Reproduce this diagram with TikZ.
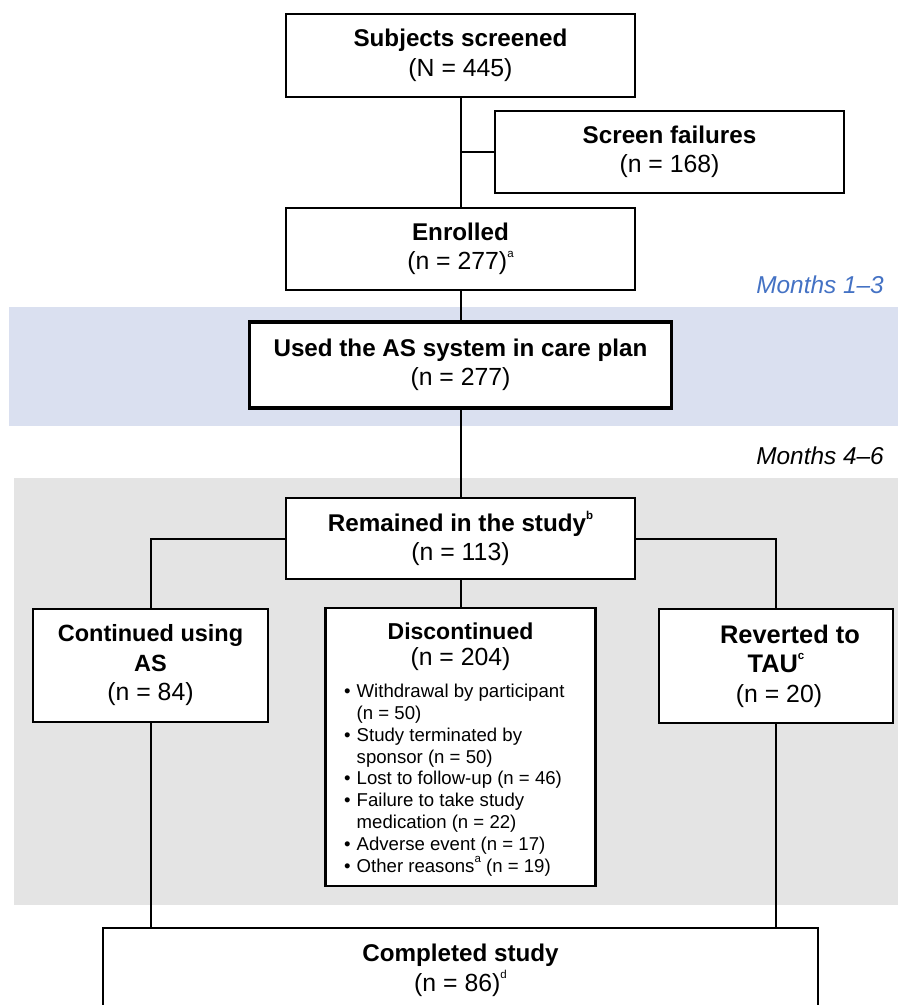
\documentclass[tikz,border=0pt]{standalone}
\usepackage{fontspec}
\setmainfont{Liberation Sans}
\definecolor{bandblue}{RGB}{218,224,240}
\definecolor{bandgray}{RGB}{228,228,228}
\definecolor{monthblue}{RGB}{68,114,196}
\newcommand{\tsize}{\fontsize{24.2}{29.5}\selectfont}
\newcommand{\nsize}{\fontsize{24.8}{29.5}\selectfont}
\newcommand{\lsize}{\fontsize{18.6}{21.8}\selectfont}
\newcommand{\supx}[1]{\raisebox{0.95ex}{\fontsize{11.5}{11.5}\selectfont #1}}
\newcommand{\bul}{\makebox[12.5pt][l]{\textbullet}}
\newcommand{\ind}{\hspace*{12.5pt}}
\tikzset{
  flowbox/.style={draw, line width=2.3pt, fill=white, align=center, inner sep=0pt, font=\tsize},
  thickbox/.style={flowbox, line width=3.6pt},
  link/.style={draw, line width=2pt},
  monthlabel/.style={font=\fontsize{24.4}{28}\selectfont\itshape, inner sep=0pt, anchor=base east}
}
\begin{document}
\begin{tikzpicture}[x=1pt, y=-1pt]
\useasboundingbox (0,0) rectangle (898,1005);
% bands
\fill[bandblue] (9,307) rectangle (898,426);
\fill[bandgray] (14,478) rectangle (898,905);
% month labels
\node[monthlabel, text=monthblue] (m13) at (884,293) {Months 1–3};
\node[monthlabel] (m46) at (884,464) {Months 4–6};
% boxes
\node[flowbox, minimum width=349, minimum height=83] (screened) at (460.5,55.5)
  {\textbf{Subjects screened}\\\nsize(N = 445)};
\node[flowbox, minimum width=349, minimum height=82] (fail) at (669.5,152)
  {\textbf{Screen failures}\\\nsize(n = 168)};
\node[flowbox, minimum width=349, minimum height=82] (enrolled) at (460.5,249)
  {\textbf{Enrolled}\\\nsize(n = 277)\supx{a}};
\node[thickbox, minimum width=422, minimum height=86] (used) at (460.5,365)
  {\textbf{Used the AS system in care plan}\\\nsize(n = 277)};
\node[flowbox, minimum width=349, minimum height=81] (remained) at (460.5,538.5)
  {\textbf{Remained in the study\supx{b}}\\\nsize(n = 113)};
\node[flowbox, minimum width=235, minimum height=113] (cont) at (150.5,665.5)
  {\fontsize{23.5}{29.5}\selectfont\textbf{Continued using}\\\fontsize{23.5}{29.5}\selectfont\textbf{AS}\\\nsize(n = 84)};
\node[flowbox, minimum width=234, minimum height=114] (rev) at (776,666)
  {\fontsize{25.4}{29.5}\selectfont\hspace*{28pt}\textbf{Reverted to}\\\fontsize{25.4}{29.5}\selectfont\textbf{TAU\supx{c}}\\\nsize\hspace*{6pt}(n = 20)};
\node[flowbox, minimum width=270, minimum height=278] (disc) at (460.5,747) {};
\node[font=\fontsize{23}{26}\selectfont, align=center, inner sep=0pt, anchor=north] (disctitle) at (460.5,623)
  {\textbf{Discontinued}\\\nsize(n = 204)};
\node[font=\lsize, align=left, inner sep=0pt, anchor=north west] (disclist) at (344,684)
  {\bul Withdrawal by participant\\
   \ind (n = 50)\\
   \bul Study terminated by\\
   \ind sponsor (n = 50)\\
   \bul Lost to follow-up (n = 46)\\
   \bul Failure to take study\\
   \ind medication (n = 22)\\
   \bul Adverse event (n = 17)\\
   \bul Other reasons\supx{a} (n = 19)};
\node[flowbox, minimum width=715, minimum height=84, anchor=north] (comp) at (460.5,927)
  {\textbf{Completed study}\\\nsize(n = 86)\supx{d}};
% connectors
\draw[link] (screened.south) -- (enrolled.north);
\coordinate (branch) at (screened.south |- fail.west);
\draw[link] (branch) -- (fail.west);
\draw[link] (enrolled.south) -- (used.north);
\draw[link] (used.south) -- (remained.north);
\draw[link] (remained.south) -- (disc.north);
\draw[link] (remained.west) -| (cont.north);
\draw[link] (remained.east) -| (rev.north);
\draw[link] (cont.south) -- (cont.south |- comp.north);
\draw[link] (rev.south) -- (rev.south |- comp.north);
\end{tikzpicture}
\end{document}
